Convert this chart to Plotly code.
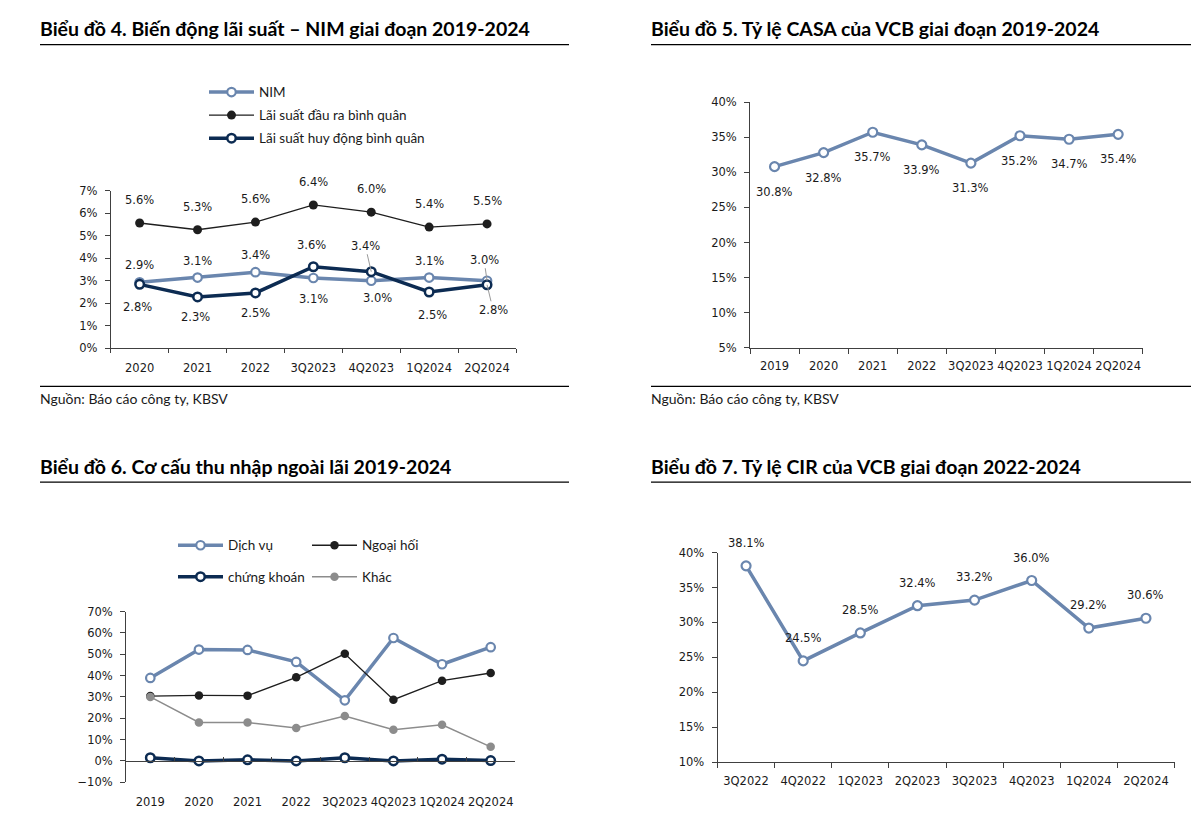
import plotly.graph_objects as go

# ---------------- data ----------------
c4_categories = ['2020', '2021', '2022', '3Q2023', '4Q2023', '1Q2024', '2Q2024']
c4_nim = [2.93, 3.14, 3.38, 3.12, 3.00, 3.14, 3.00]
c4_output_rate = [5.56, 5.26, 5.60, 6.36, 6.04, 5.38, 5.52]
c4_deposit_rate = [2.84, 2.28, 2.46, 3.62, 3.40, 2.50, 2.82]
c4_names = ['NIM', 'Lãi suất đầu ra bình quân', 'Lãi suất huy động bình quân']

c5_categories = ['2019', '2020', '2021', '2022', '3Q2023', '4Q2023', '1Q2024', '2Q2024']
c5_casa = [30.8, 32.8, 35.7, 33.9, 31.3, 35.2, 34.7, 35.4]

c6_categories = ['2019', '2020', '2021', '2022', '3Q2023', '4Q2023', '1Q2024', '2Q2024']
c6_services = [38.9, 52.2, 52.0, 46.4, 28.4, 57.6, 45.3, 53.3]
c6_fx = [30.4, 30.7, 30.6, 39.2, 50.2, 28.7, 37.6, 41.2]
c6_securities = [1.5, 0.0, 0.5, 0.0, 1.5, 0.0, 0.8, 0.2]
c6_other = [30.0, 18.0, 18.0, 15.4, 21.0, 14.6, 16.9, 6.6]
c6_names = ['Dịch vụ', 'Ngoại hối', 'chứng khoán', 'Khác']

c7_categories = ['3Q2022', '4Q2022', '1Q2023', '2Q2023', '3Q2023', '4Q2023', '1Q2024', '2Q2024']
c7_cir = [38.1, 24.5, 28.5, 32.4, 33.2, 36.0, 29.2, 30.6]

titles = ['Biểu đồ 4. Biến động lãi suất – NIM giai đoạn 2019-2024',
          'Biểu đồ 5. Tỷ lệ CASA của VCB giai đoạn 2019-2024',
          'Biểu đồ 6. Cơ cấu thu nhập ngoài lãi 2019-2024',
          'Biểu đồ 7. Tỷ lệ CIR của VCB giai đoạn 2022-2024']
source_text = 'Nguồn: Báo cáo công ty, KBSV'

# ---------------- styles ----------------
W, H = 1191, 823
def fx(p): return p / W
def fy(p): return 1 - p / H

STEEL = '#6A86AE'
NAVY = '#0C2B52'
BLACK = '#1E1E1E'
GREY = '#8C8C8C'
AXIS = '#404040'
TXT = '#1A1A1A'
TICKFONT = dict(family='DejaVu Sans', size=11.5, color=TXT)
LABELFONT = dict(family='DejaVu Sans', size=11.5, color=TXT)
SANS = 'Lato'
TITLEFONT = 'Lato'

# label offsets in px (dx, dy; dy positive = downward) and leader flags
c4_nim_lbl = dict(dx=[0, 0, 0, 0, 6, 0, -3], dy=[-17, -17, -17, 21, 17, -17, -21],
                  lead=[0, 0, 0, 0, 0, 0, 1])
c4_out_lbl = dict(dx=[0] * 7, dy=[-23] * 7, lead=[0] * 7)
c4_dep_lbl = dict(dx=[-2, -2, 0, -2, -6, 3, 6], dy=[23, 20, 20, -22, -26, 23, 25],
                  lead=[0, 0, 0, 0, 1, 0, 1])
c5_lbl = dict(dx=[0] * 8, dy=[25] * 8, lead=[0] * 8)
c7_lbl = dict(dx=[0] * 8, dy=[-23] * 8, lead=[0] * 8)

fig = go.Figure()


def add_line(x, y, name, color, width, open_marker, msize, xa, ya, legend=None, mline=2.2):
    marker = dict(symbol='circle', size=msize,
                  color='white' if open_marker else color,
                  line=dict(color=color, width=mline if open_marker else 0))
    fig.add_trace(go.Scatter(x=x, y=y, name=name, mode='lines+markers',
                             line=dict(color=color, width=width), marker=marker,
                             xaxis=xa, yaxis=ya, legend=legend or 'legend',
                             showlegend=legend is not None, legendgroup=name,
                             hoverinfo='skip', cliponaxis=False))


annotations = []


def add_labels(cats, vals, st, xref, yref):
    for i, (c, v, dx, dy, ld) in enumerate(zip(cats, vals, st['dx'], st['dy'], st['lead'])):
        txt = f'{v:.1f}%'
        if ld:
            annotations.append(dict(x=i, y=v, xref=xref, yref=yref, text=txt, showarrow=True,
                                    ax=dx, ay=dy, arrowhead=0, arrowwidth=1,
                                    arrowcolor='#9A9A9A', standoff=0, font=LABELFONT))
        else:
            annotations.append(dict(x=i, y=v, xref=xref, yref=yref, text=txt, showarrow=False,
                                    xshift=dx, yshift=-dy, font=LABELFONT))


# chart 4
add_line(c4_categories, c4_nim, c4_names[0], STEEL, 3.5, True, 8.5, 'x', 'y', 'legend')
add_line(c4_categories, c4_output_rate, c4_names[1], BLACK, 1.3, False, 9, 'x', 'y', 'legend')
add_line(c4_categories, c4_deposit_rate, c4_names[2], NAVY, 3.5, True, 8.5, 'x', 'y', 'legend', 2.5)
add_labels(c4_categories, c4_output_rate, c4_out_lbl, 'x', 'y')
add_labels(c4_categories, c4_nim, c4_nim_lbl, 'x', 'y')
add_labels(c4_categories, c4_deposit_rate, c4_dep_lbl, 'x', 'y')

# chart 5
add_line(c5_categories, c5_casa, 'CASA', STEEL, 3.5, True, 9, 'x2', 'y2')
add_labels(c5_categories, c5_casa, c5_lbl, 'x2', 'y2')

# chart 6
add_line(c6_categories, c6_services, c6_names[0], STEEL, 3.5, True, 8.5, 'x3', 'y3', 'legend2')
add_line(c6_categories, c6_fx, c6_names[1], BLACK, 1.3, False, 8.5, 'x3', 'y3', 'legend2')
add_line(c6_categories, c6_securities, c6_names[2], NAVY, 3.5, True, 8.5, 'x3', 'y3', 'legend3', 2.5)
add_line(c6_categories, c6_other, c6_names[3], GREY, 1.5, False, 8.5, 'x3', 'y3', 'legend3')

# chart 7
add_line(c7_categories, c7_cir, 'CIR', STEEL, 3.5, True, 9, 'x4', 'y4')
add_labels(c7_categories, c7_cir, c7_lbl, 'x4', 'y4')

# titles, sources and rules
title_pos = [(40, 22), (651, 22), (40, 467), (651, 467)]
for t, (px, py) in zip(titles, title_pos):
    annotations.append(dict(text=f'<b>{t}</b>', x=fx(px - 2), y=fy(py), xref='paper', yref='paper',
                            xanchor='left', yanchor='middle', showarrow=False,
                            font=dict(family=TITLEFONT, size=19.5, color='#000000')))
for px in (40, 651):
    annotations.append(dict(text=source_text, x=fx(px - 2), y=fy(398), xref='paper', yref='paper',
                            xanchor='left', yanchor='middle', showarrow=False,
                            font=dict(family=SANS, size=14, color=TXT)))

shapes = []
for (x0, x1, py) in [(40, 569, 38.3), (651, 1191, 38.3), (40, 569, 483.3), (651, 1191, 483.3),
                     (40, 569, 386), (651, 1191, 386)]:
    shapes.append(dict(type='line', xref='paper', yref='paper', x0=fx(x0), x1=fx(x1),
                       y0=fy(py), y1=fy(py), line=dict(color='#000000', width=1.3)))


def xax(dom, n, **kw):
    d = dict(domain=[fx(dom[0]), fx(dom[1])], type='category', range=[-0.5, n - 0.5],
             tickson='boundaries', ticks='outside', ticklen=5, tickcolor=AXIS, tickangle=0,
             showline=True, linecolor=AXIS, linewidth=1, showgrid=False, zeroline=False,
             tickfont=TICKFONT, fixedrange=True, ticklabelstandoff=5)
    d.update(kw)
    return d


def yax(dom, rng, dtick, **kw):
    d = dict(domain=[fy(dom[0]), fy(dom[1])], range=rng, dtick=dtick, ticksuffix='%',
             ticks='outside', ticklen=5, tickcolor=AXIS, showline=True, linecolor=AXIS,
             linewidth=1, showgrid=False, zeroline=False, tickfont=TICKFONT,
             ticklabelstandoff=5, fixedrange=True)
    d.update(kw)
    return d


fig.update_layout(
    width=W, height=H, margin=dict(l=0, r=0, t=0, b=0),
    paper_bgcolor='white', plot_bgcolor='white',
    xaxis=xax((110.7, 516), 7, anchor='y', ticklen=4, ticklabelstandoff=9),
    yaxis=yax((347.3, 186.7), [0, 7], 1, anchor='x'),
    xaxis2=xax((750, 1142.7), 8, anchor='y2', ticklabelstandoff=7),
    yaxis2=yax((346.7, 96.7), [5, 40], 5, anchor='x2'),
    xaxis3=xax((126, 515), 8, anchor='free', position=fy(766.7), ticks='inside', ticklen=4,
               ticklabelstandoff=31),
    yaxis3=yax((788.7, 615), [-10, 70], 10, anchor='x3'),
    xaxis4=xax((717.5, 1174.5), 8, anchor='y4', ticklabelstandoff=8),
    yaxis4=yax((768.3, 555), [10, 40], 5, anchor='x4'),
    legend=dict(x=fx(204), y=fy(71), xanchor='left', yanchor='top', orientation='v',
                font=dict(family=SANS, size=13.5, color=TXT), bgcolor='rgba(0,0,0,0)',
                itemwidth=45, tracegroupgap=2.5, traceorder='grouped'),
    legend2=dict(x=fx(173), y=fy(532), xanchor='left', yanchor='top', orientation='h',
                 font=dict(family=SANS, size=13.5, color=TXT), bgcolor='rgba(0,0,0,0)',
                 itemwidth=45, entrywidth=74, entrywidthmode='pixels', traceorder='normal'),
    legend3=dict(x=fx(173), y=fy(564), xanchor='left', yanchor='top', orientation='h',
                 font=dict(family=SANS, size=13.5, color=TXT), bgcolor='rgba(0,0,0,0)',
                 itemwidth=45, entrywidth=74, entrywidthmode='pixels', traceorder='normal'),
    annotations=annotations, shapes=shapes, showlegend=True,
)

fig.write_html('out.html', post_script=(
    "document.documentElement.style.overflow='hidden';"
    "document.body.style.margin='0';document.body.style.overflow='hidden';"
    "var gd=document.getElementById('{plot_id}');"
    "gd.style.position='fixed';gd.style.top='0px';gd.style.left='0px';"))
